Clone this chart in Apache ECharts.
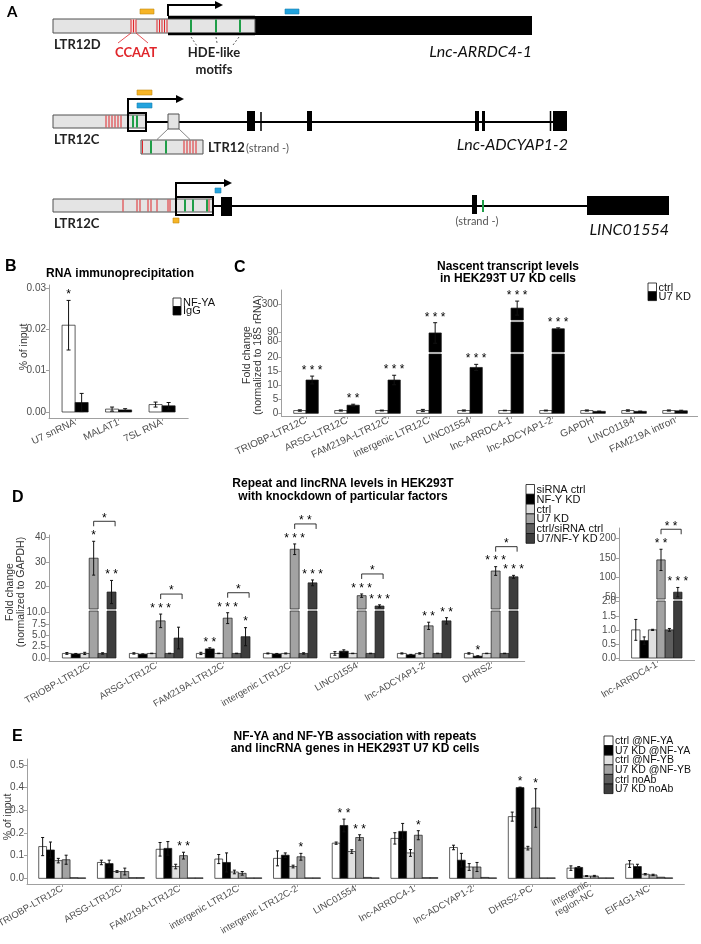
<!DOCTYPE html>
<html><head><meta charset="utf-8">
<script src="https://cdn.jsdelivr.net/npm/echarts@6/dist/echarts.min.js"></script>
<style>html,body{margin:0;padding:0;background:#fff}#c{width:701px;height:944px}</style>
</head><body><div id="c"></div>
<script>
// ================= DATA =================
// Panel B
const B_categories = ['U7 snRNA', 'MALAT1', '7SL RNA'];
const B_groups = ['NF-YA', 'IgG'];
const B_nfya = [0.021, 0.0007, 0.0018];
const B_nfya_err = [0.006, 0.0005, 0.0006];
const B_nfya_sig = ['*', '', ''];
const B_igg = [0.0023, 0.0005, 0.0015];
const B_igg_err = [0.0022, 0.0003, 0.0008];
const B_ticks = [0, 0.01, 0.02, 0.03];

// Panel C
const C_categories = ['TRIOBP-LTR12C', 'ARSG-LTR12C', 'FAM219A-LTR12C', 'intergenic LTR12C', 'LINC01554', 'lnc-ARRDC4-1', 'lnc-ADCYAP1-2', 'GAPDH', 'LINC01184', 'FAM219A intron'];
const C_groups = ['ctrl', 'U7 KD'];
const C_ctrl = [1, 1, 1, 1, 1, 1, 1, 1, 1, 1];
const C_ctrl_err = [0.25, 0.2, 0.15, 0.4, 0.2, 0.1, 0.15, 0.2, 0.25, 0.2];
const C_u7 = [11.9, 2.9, 11.9, 89, 16.4, 279, 93.5, 0.7, 0.7, 0.9];
const C_u7_err = [1.4, 0.35, 1.7, 11, 1.1, 41, 1, 0.1, 0.1, 0.2];
const C_u7_sig = ['***', '**', '***', '***', '***', '***', '***', '', '', ''];
const C_ticks_low = [0, 5, 10, 15, 20];
const C_ticks_mid = [70, 80, 90, 100];
const C_ticks_top = [250, 300, 350];

// Panel D (left)
const D_categories = ['TRIOBP-LTR12C', 'ARSG-LTR12C', 'FAM219A-LTR12C', 'intergenic LTR12C', 'LINC01554', 'lnc-ADCYAP1-2', 'DHRS2'];
const D_groups = ['siRNA ctrl', 'NF-Y KD', 'ctrl', 'U7 KD', 'ctrl/siRNA ctrl', 'U7/NF-Y KD'];
const D_sirna = [1, 1, 1, 1, 1, 1, 1];
const D_sirna_err = [0.2, 0.15, 0.25, 0.1, 0.4, 0.12, 0.15];
const D_nfy = [0.9, 0.85, 2.0, 0.9, 1.5, 0.7, 0.4];
const D_nfy_err = [0.1, 0.05, 0.25, 0.1, 0.3, 0.1, 0.1];
const D_nfy_sig = ['', '', '**', '', '', '', '*'];
const D_ctrl = [1, 1, 1, 1, 1, 1, 1];
const D_ctrl_err = [0.25, 0.05, 0.05, 0.1, 0.05, 0.15, 0.05];
const D_u7 = [31.5, 8.2, 8.8, 35.2, 16, 7.1, 26.2];
const D_u7_err = [7, 1.5, 1.2, 2.2, 0.7, 0.8, 1.8];
const D_u7_sig = ['*', '***', '***', '***', '***', '**', '***'];
const D_ctrl2 = [1, 1, 1, 1, 1, 1, 1];
const D_ctrl2_err = [0.15, 0.05, 0.05, 0.15, 0.05, 0.05, 0.05];
const D_u7nfy = [17.5, 4.4, 4.7, 21.3, 11.7, 8.2, 23.8];
const D_u7nfy_err = [4.8, 2.4, 2.0, 1.2, 0.5, 0.7, 0.6];
const D_u7nfy_sig = ['**', '', '*', '***', '***', '**', '***'];
const D_bracket = ['*', '*', '*', '**', '*', '', '*'];
const D_ticks_low = [0, 2.5, 5, 7.5, 10];
const D_ticks_up = [20, 30, 40];

// Panel D (right, lnc-ARRDC4-1)
const D2_categories = ['lnc-ARRDC4-1'];
const D2_sirna = [1.0], D2_sirna_err = [0.37];
const D2_nfy = [0.62], D2_nfy_err = [0.13];
const D2_ctrl = [1.0], D2_ctrl_err = [0.02];
const D2_u7 = [145], D2_u7_err = [27], D2_u7_sig = ['**'];
const D2_ctrl2 = [1.0], D2_ctrl2_err = [0.05];
const D2_u7nfy = [63], D2_u7nfy_err = [12], D2_u7nfy_sig = ['***'];
const D2_bracket = ['**'];
const D2_ticks_low = [0, 0.5, 1, 1.5, 2];
const D2_ticks_up = [50, 100, 150, 200];

// Panel E
const E_categories = ['TRIOBP-LTR12C', 'ARSG-LTR12C', 'FAM219A-LTR12C', 'intergenic LTR12C', 'intergenic LTR12C-2', 'LINC01554', 'lnc-ARRDC4-1', 'lnc-ADCYAP1-2', 'DHRS2-PC', 'intergenic\nregion-NC', 'EIF4G1-NC'];
const E_groups = ['ctrl @NF-YA', 'U7 KD @NF-YA', 'ctrl @NF-YB', 'U7 KD @NF-YB', 'ctrl noAb', 'U7 KD noAb'];
const E_ctrlYA = [0.14, 0.07, 0.128, 0.085, 0.088, 0.155, 0.176, 0.136, 0.272, 0.045, 0.063];
const E_ctrlYA_err = [0.04, 0.01, 0.03, 0.02, 0.033, 0.005, 0.025, 0.01, 0.02, 0.01, 0.015];
const E_u7YA = [0.125, 0.065, 0.132, 0.07, 0.102, 0.233, 0.207, 0.08, 0.40, 0.048, 0.052];
const E_u7YA_err = [0.035, 0.015, 0.03, 0.042, 0.01, 0.028, 0.035, 0.03, 0.002, 0.004, 0.01];
const E_u7YA_sig = ['', '', '', '', '', '**', '', '', '*', '', ''];
const E_ctrlYB = [0.078, 0.03, 0.052, 0.028, 0.052, 0.118, 0.112, 0.05, 0.133, 0.01, 0.018];
const E_ctrlYB_err = [0.01, 0.004, 0.01, 0.008, 0.006, 0.008, 0.015, 0.015, 0.008, 0.002, 0.003];
const E_u7YB = [0.082, 0.03, 0.1, 0.022, 0.095, 0.18, 0.19, 0.05, 0.31, 0.01, 0.015];
const E_u7YB_err = [0.02, 0.015, 0.015, 0.008, 0.015, 0.012, 0.02, 0.02, 0.085, 0.003, 0.003];
const E_u7YB_sig = ['', '', '**', '', '*', '**', '*', '', '*', '', ''];
const E_ctrlNo = [0.003, 0.003, 0.002, 0.002, 0.002, 0.004, 0.003, 0.004, 0.002, 0.002, 0.005];
const E_u7No = [0.002, 0.003, 0.002, 0.002, 0.002, 0.002, 0.003, 0.002, 0.002, 0.002, 0.002];
const E_ticks = [0, 0.1, 0.2, 0.3, 0.4, 0.5];

// ================= STYLE =================
const FONT = '"Liberation Sans", Arial, sans-serif';
const AFONT = 'Lato, "Open Sans", sans-serif';
const AXIS = '#a0a0a0';
const TXT = '#4d4d4d';
const WHITE = '#ffffff', BLACK = '#000000', LIGHT = '#e0e0e0', MID = '#a3a3a3', DARK = '#5e5e5e', DARKER = '#3d3d3d';

const option = { animation: false, backgroundColor: '#fff', grid: [], xAxis: [], yAxis: [], series: [], graphic: [] };

function makeRender(items, si, p, bwU) {
  const n = p.groups.length;
  return function (params, api) {
    const it = items[params.dataIndex];
    const cs = params.coordSys;
    const top = cs.y, bot = cs.y + cs.height;
    const unit = api.size([1, 0])[0];
    const bw = unit * bwU;
    const cx = api.coord([it.c, 0])[0];
    const x0 = cx - n * bw / 2 + it.g * bw;
    const xc = x0 + bw / 2;
    const y0 = api.coord([it.c, 0])[1];
    const yv = api.coord([it.c, it.v])[1];
    const ch = [];
    const a = Math.max(Math.min(y0, yv), top), b = Math.min(Math.max(y0, yv), bot);
    if (b > a) ch.push({ type: 'rect', shape: { x: x0, y: a, width: bw, height: b - a }, style: { fill: it.color, stroke: '#1a1a1a', lineWidth: 0.7 } });
    if (it.e > 0) {
      const yt = api.coord([it.c, it.v + it.e])[1], yb = api.coord([it.c, Math.max(it.v - it.e, 0)])[1];
      const ea = Math.max(yt, top), eb = Math.min(yb, bot);
      if (eb > ea) {
        ch.push({ type: 'line', shape: { x1: xc, y1: ea, x2: xc, y2: eb }, style: { stroke: '#111', lineWidth: 1 } });
        const cw = p.capW / 2;
        if (yt >= top && yt <= bot) ch.push({ type: 'line', shape: { x1: xc - cw, y1: yt, x2: xc + cw, y2: yt }, style: { stroke: '#111', lineWidth: 1 } });
        if (yb >= top && yb <= bot && it.v - it.e > 0) ch.push({ type: 'line', shape: { x1: xc - cw, y1: yb, x2: xc + cw, y2: yb }, style: { stroke: '#111', lineWidth: 1 } });
      }
    }
    if (si === it.segIdx) {
      const yTop = api.coord([it.c, it.v + it.e])[1];
      if (it.sig) ch.push({ type: 'text', x: xc, y: yTop - 5.5, style: { text: it.sig.split('').join(' '), align: 'center', verticalAlign: 'middle', fontSize: 12, fontFamily: FONT, fill: '#000' } });
      if (it.bracket) {
        const yB = yTop - 20;
        const x1 = xc, x2 = xc + 2 * bw + bw * 0.4;
        ch.push({ type: 'polyline', shape: { points: [[x1, yB + 5], [x1, yB], [x2, yB], [x2, yB + 5]] }, style: { stroke: '#000', lineWidth: 0.8, fill: null } });
        ch.push({ type: 'text', x: (x1 + x2) / 2, y: yB - 3, style: { text: it.bracket.split('').join(' '), align: 'center', verticalAlign: 'middle', fontSize: 12, fontFamily: FONT, fill: '#000' } });
      }
    }
    return { type: 'group', children: ch };
  };
}

function addPanel(p) {
  const n = p.groups.length;
  const bwU = p.groupWidth / n;
  const items = [];
  p.cats.forEach((cat, c) => {
    p.groups.forEach((g, gi) => {
      const v = g.vals[c], e = g.errs ? g.errs[c] : 0;
      const anchor = v + e;
      let segIdx = p.segs.findIndex(s => anchor <= s.max);
      if (segIdx < 0) segIdx = p.segs.length - 1;
      const it = { c, g: gi, v, e, sig: g.sigs ? g.sigs[c] : '', color: g.color, segIdx };
      if (p.brackets && gi === p.bracketFrom && p.brackets[c]) it.bracket = p.brackets[c];
      items.push(it);
    });
  });
  const catIdx = p.cats.map((_, i) => i);
  p.segs.forEach((s, si) => {
    const gi = option.grid.length;
    option.grid.push({ left: p.left, width: p.width, top: s.top, height: s.height, containLabel: false, outerBoundsMode: 'none' });
    const bottom = si === 0;
    option.xAxis.push({
      type: 'value', gridIndex: gi, min: p.xmin, max: p.xmax,
      axisLine: { show: bottom, onZero: false, lineStyle: { color: AXIS, width: 1 } },
      axisTick: { show: bottom, customValues: catIdx, length: 3, lineStyle: { color: AXIS } },
      axisLabel: { show: bottom, customValues: catIdx, formatter: v => p.cats[Math.round(v)] || '', rotate: p.rotate, fontSize: p.labelSize, color: TXT, fontFamily: FONT, margin: 4, lineHeight: p.labelSize * 1.1 },
      splitLine: { show: false }
    });
    option.yAxis.push({
      type: 'value', gridIndex: gi, min: s.min, max: s.max,
      axisLine: { show: true, onZero: false, lineStyle: { color: AXIS, width: 1 } },
      axisTick: { show: true, customValues: s.ticks, length: 3, lineStyle: { color: AXIS } },
      axisLabel: { customValues: s.ticks, formatter: s.fmt, fontSize: 10, color: TXT, fontFamily: FONT, margin: 3 },
      splitLine: { show: false }
    });
    option.series.push({ type: 'custom', coordinateSystem: 'cartesian2d', xAxisIndex: gi, yAxisIndex: gi, silent: true, clip: false, data: items.map(it => [it.c, it.v]), renderItem: makeRender(items, si, p, bwU) });
  });
  if (p.segs.length > 1) {
    // continuous y axis line across the broken segments
    const yTop = p.segs[p.segs.length - 1].top, yBot = p.segs[0].top + p.segs[0].height;
    const x = Math.round(p.left) + 0.5;
    option.graphic.push({ type: 'line', silent: true, z: 100, shape: { x1: x, y1: yTop, x2: x, y2: yBot }, style: { stroke: AXIS, lineWidth: 1 } });
  }
}

const f2 = v => v.toFixed(2), f1 = v => v.toFixed(1), f0 = v => String(Math.round(v));

addPanel({ left: 49, width: 139.2, xmin: -0.6, xmax: 2.6, cats: B_categories, groupWidth: 0.6, capW: 4, rotate: 25, labelSize: 10,
  groups: [{ vals: B_nfya, errs: B_nfya_err, sigs: B_nfya_sig, color: WHITE }, { vals: B_igg, errs: B_igg_err, color: BLACK }],
  segs: [{ top: 285, height: 133, min: -0.00145, max: 0.03073, ticks: B_ticks, fmt: f2 }] });

addPanel({ left: 281.4, width: 416.2, xmin: -0.6, xmax: 9.55, cats: C_categories, groupWidth: 0.6, capW: 4, rotate: 25, labelSize: 10,
  groups: [{ vals: C_ctrl, errs: C_ctrl_err, color: WHITE }, { vals: C_u7, errs: C_u7_err, sigs: C_u7_sig, color: BLACK }],
  segs: [{ top: 354, height: 62, min: -0.96, max: 21.2, ticks: C_ticks_low, fmt: f0 },
         { top: 322, height: 30, min: 68.6, max: 100.75, ticks: C_ticks_mid, fmt: f0 },
         { top: 290, height: 30, min: 209.5, max: 384.7, ticks: C_ticks_top, fmt: f0 }] });

addPanel({ left: 49, width: 475.7, xmin: -0.6, xmax: 6.5, cats: D_categories, groupWidth: 0.8, capW: 3, rotate: 30, labelSize: 9.5,
  groups: [{ vals: D_sirna, errs: D_sirna_err, color: WHITE }, { vals: D_nfy, errs: D_nfy_err, sigs: D_nfy_sig, color: BLACK },
           { vals: D_ctrl, errs: D_ctrl_err, color: LIGHT }, { vals: D_u7, errs: D_u7_err, sigs: D_u7_sig, color: MID },
           { vals: D_ctrl2, errs: D_ctrl2_err, color: DARK }, { vals: D_u7nfy, errs: D_u7nfy_err, sigs: D_u7nfy_sig, color: DARKER }],
  brackets: D_bracket, bracketFrom: 3,
  segs: [{ top: 611, height: 50, min: -0.67, max: 10.38, ticks: D_ticks_low, fmt: f1 },
         { top: 535, height: 74, min: 10.48, max: 41.1, ticks: D_ticks_up, fmt: f0 }] });

addPanel({ left: 619, width: 75.6, xmin: -0.6, xmax: 0.6, cats: D2_categories, groupWidth: 0.8, capW: 3, rotate: 30, labelSize: 9.5,
  groups: [{ vals: D2_sirna, errs: D2_sirna_err, color: WHITE }, { vals: D2_nfy, errs: D2_nfy_err, color: BLACK },
           { vals: D2_ctrl, errs: D2_ctrl_err, color: LIGHT }, { vals: D2_u7, errs: D2_u7_err, sigs: D2_u7_sig, color: MID },
           { vals: D2_ctrl2, errs: D2_ctrl2_err, color: DARK }, { vals: D2_u7nfy, errs: D2_u7nfy_err, sigs: D2_u7nfy_sig, color: DARKER }],
  brackets: D2_bracket, bracketFrom: 3,
  segs: [{ top: 601, height: 59, min: -0.07, max: 2.025, ticks: D2_ticks_low, fmt: f1 },
         { top: 528, height: 71, min: 45.7, max: 226, ticks: D2_ticks_up, fmt: f0 }] });

addPanel({ left: 27, width: 657.4, xmin: -0.6, xmax: 10.6, cats: E_categories, groupWidth: 0.8, capW: 3, rotate: 30, labelSize: 9.5,
  groups: [{ vals: E_ctrlYA, errs: E_ctrlYA_err, color: WHITE }, { vals: E_u7YA, errs: E_u7YA_err, sigs: E_u7YA_sig, color: BLACK },
           { vals: E_ctrlYB, errs: E_ctrlYB_err, color: LIGHT }, { vals: E_u7YB, errs: E_u7YB_err, sigs: E_u7YB_sig, color: MID },
           { vals: E_ctrlNo, color: DARK }, { vals: E_u7No, color: DARKER }],
  segs: [{ top: 759, height: 125, min: -0.025, max: 0.526, ticks: E_ticks, fmt: f1 }] });

// ================= GRAPHICS (panel A diagram, titles, legends) =================
const G = option.graphic;
function rect(x, y, w, h, fill, stroke, lw) { G.push({ type: 'rect', silent: true, shape: { x, y, width: w, height: h }, style: { fill: fill || null, stroke: stroke || null, lineWidth: lw || 0 } }); }
function line(x1, y1, x2, y2, stroke, lw, dash) { G.push({ type: 'line', silent: true, shape: { x1, y1, x2, y2 }, style: { stroke, lineWidth: lw, lineDash: dash || null } }); }
function pline(points, stroke, lw) { G.push({ type: 'polyline', silent: true, shape: { points }, style: { stroke, lineWidth: lw, fill: null } }); }
function pgon(points, fill) { G.push({ type: 'polygon', silent: true, shape: { points }, style: { fill } }); }
function text(t, x, y, o) {
  o = o || {};
  G.push({ type: 'text', silent: true, x, y, rotation: o.rot || 0,
    style: { text: t, x: 0, y: 0, align: o.align || 'left', verticalAlign: o.va || 'middle', fontSize: o.size || 10,
      fontWeight: o.bold ? 'bold' : 'normal', fontStyle: o.italic ? 'italic' : 'normal', fontFamily: o.font || FONT, fill: o.color || '#000', lineHeight: o.lh || undefined } });
}
const GRAYF = '#e4e4e4', GRAYS = '#505050', RED = '#e0262b', GREEN = '#1f9e48', ORANGE = '#f6b426', BLUE = '#22a3de';
function arrow(x, yBase, yTop, xEnd) {
  pline([[x, yBase], [x, yTop], [xEnd - 6, yTop]], '#000', 2);
  pgon([[xEnd - 8, yTop - 4], [xEnd, yTop], [xEnd - 8, yTop + 4]], '#000');
}
function vlines(xs, y1, y2, color, lw) { xs.forEach(x => line(x, y1, x, y2, color, lw)); }

// --- Panel A, gene 1 (Lnc-ARRDC4-1)
text('A', 7, 12, { size: 15, bold: true, font: AFONT });
rect(168, 16, 364, 19, '#000');
rect(53, 19, 202, 14, GRAYF, GRAYS, 1);
rect(131, 19.5, 5, 13, '#f6d6d6');
vlines([131, 133.5, 136, 157, 159.5, 162, 164.5, 167], 19.5, 32.5, RED, 1);
vlines([191, 216, 240], 19.5, 32.5, GREEN, 2);
line(168, 17, 255, 17, '#000', 2.5); line(168, 34, 255, 34, '#000', 2.5);
arrow(168, 16, 5, 223);
rect(140, 9, 14, 5, ORANGE, '#c58a10', 0.6);
rect(285, 9, 14, 5, BLUE, '#1a7fb0', 0.6);
text('LTR12D', 54, 45, { size: 13, bold: true, font: AFONT, color: '#222' });
line(131, 33, 118, 43, RED, 0.8); line(136, 33, 148, 43, RED, 0.8);
text('CCAAT', 136, 53, { size: 13, bold: true, font: AFONT, color: RED, align: 'center' });
line(191, 37, 197, 46, '#333', 0.8, [2, 2]); line(216, 37, 217, 43, '#333', 0.8, [2, 2]); line(239, 37, 233, 45, '#333', 0.8, [2, 2]);
text('HDE-like', 214, 53, { size: 13, bold: true, font: AFONT, color: '#222', align: 'center' });
text('motifs', 214, 70, { size: 13, bold: true, font: AFONT, color: '#222', align: 'center' });
text('Lnc-ARRDC4-1', 532, 52, { size: 16, italic: true, font: AFONT, color: '#111', align: 'right' });

// --- gene 2 (Lnc-ADCYAP1-2)
line(146, 122, 567, 122, '#000', 2);
rect(53, 115, 93, 13, GRAYF, GRAYS, 1);
vlines([106, 109, 112, 115, 118, 121], 115.5, 127.5, RED, 1);
rect(128, 113, 18, 18, null, '#000', 2);
vlines([133, 137], 115.5, 127.5, GREEN, 2);
rect(168, 114, 11, 15, GRAYF, GRAYS, 1);
rect(247, 111, 8, 20, '#000');
line(261, 112, 261, 131, '#000', 1.5);
rect(307, 111, 5, 20, '#000');
rect(475, 111, 4, 20, '#000');
rect(482, 111, 3, 20, '#000');
line(550.5, 111, 550.5, 131, '#000', 1.5);
rect(553, 111, 14, 20, '#000');
arrow(128, 113, 99, 184);
rect(137, 90, 15, 5, ORANGE, '#c58a10', 0.6);
rect(137, 103, 15, 5, BLUE, '#1a7fb0', 0.6);
text('LTR12C', 54, 140, { size: 13, bold: true, font: AFONT, color: '#222' });
line(168, 129, 157, 139.5, '#666', 0.8); line(179, 129, 190, 139.5, '#666', 0.8);
rect(141, 140, 62, 14, GRAYF, GRAYS, 1);
vlines([142.5, 184, 187, 190, 193, 196], 140.5, 153.5, RED, 1);
vlines([151, 166], 140.5, 153.5, GREEN, 2);
text('LTR12', 208, 148, { size: 13, bold: true, font: AFONT, color: '#222' });
text('(strand -)', 246, 148.5, { size: 11, font: AFONT, color: '#555' });
text('Lnc-ADCYAP1-2', 568, 145, { size: 16, italic: true, font: AFONT, color: '#111', align: 'right' });

// --- gene 3 (LINC01554)
line(213, 206, 587, 206, '#000', 2);
rect(53, 199, 160, 13, GRAYF, GRAYS, 1);
vlines([123, 137, 140, 148, 151, 157, 168, 170, 209], 199.5, 211.5, RED, 1);
rect(176, 197, 37, 18, null, '#000', 2);
vlines([185, 193, 207], 199.5, 211.5, GREEN, 2);
rect(221, 197, 11, 19, '#000');
rect(472, 195, 5, 19, '#000');
line(483, 200, 483, 212, GREEN, 2);
rect(587, 196, 82, 19, '#000');
text('(strand -)', 477, 221, { size: 11, font: AFONT, color: '#555', align: 'center' });
arrow(176, 197, 183, 232);
rect(215, 188, 6, 5, BLUE, '#1a7fb0', 0.6);
rect(173, 218, 6, 5, ORANGE, '#c58a10', 0.6);
text('LTR12C', 54, 224, { size: 13, bold: true, font: AFONT, color: '#222' });
text('LINC01554', 669, 230, { size: 16, italic: true, font: AFONT, color: '#111', align: 'right' });

// --- panel labels and titles
text('B', 5, 267, { size: 16, bold: true });
text('RNA immunoprecipitation', 120, 274, { size: 12, bold: true, align: 'center' });
text('% of input', 24, 347, { size: 10.5, rot: Math.PI / 2, align: 'center', color: '#333' });

text('C', 234, 268, { size: 16, bold: true });
text('Nascent transcript levels', 508, 267, { size: 12, bold: true, align: 'center' });
text('in HEK293T U7 KD cells', 508, 279, { size: 12, bold: true, align: 'center' });
text('Fold change', 247, 355, { size: 10.5, rot: Math.PI / 2, align: 'center', color: '#333' });
text('(normalized to 18S rRNA)', 258, 355, { size: 10.5, rot: Math.PI / 2, align: 'center', color: '#333' });

text('D', 12, 498, { size: 16, bold: true });
text('Repeat and lincRNA levels in HEK293T', 343, 484, { size: 12, bold: true, align: 'center' });
text('with knockdown of particular factors', 343, 497, { size: 12, bold: true, align: 'center' });
text('Fold change', 10, 592, { size: 10.5, rot: Math.PI / 2, align: 'center', color: '#333' });
text('(normalized to GAPDH)', 21, 592, { size: 10.5, rot: Math.PI / 2, align: 'center', color: '#333' });

text('E', 12, 737, { size: 16, bold: true });
text('NF-YA and NF-YB association with repeats', 355, 737, { size: 12, bold: true, align: 'center' });
text('and lincRNA genes in HEK293T U7 KD cells', 355, 749, { size: 12, bold: true, align: 'center' });
text('% of input', 8, 817, { size: 10.5, rot: Math.PI / 2, align: 'center', color: '#333' });

// --- legends
function legend(names, colors, x, y, rowH, boxW, size) {
  names.forEach((nm, i) => {
    rect(x, y + i * rowH, boxW, rowH, colors[i], '#111', 0.8);
    text(nm, x + boxW + 2, y + i * rowH + rowH / 2 + 0.5, { size, color: '#111' });
  });
}
legend(B_groups, [WHITE, BLACK], 173, 298, 8.5, 8, 11);
legend(C_groups, [WHITE, BLACK], 648, 283, 8.8, 8.5, 11);
legend(D_groups, [WHITE, BLACK, LIGHT, MID, DARK, DARKER], 526, 484.5, 9.8, 8.5, 11);
legend(E_groups, [WHITE, BLACK, LIGHT, MID, DARK, DARKER], 604, 736, 9.6, 9, 10.5);

const chart = echarts.init(document.getElementById('c'), null, { renderer: 'canvas', width: 701, height: 944 });
chart.setOption(option);
</script>
</body></html>
